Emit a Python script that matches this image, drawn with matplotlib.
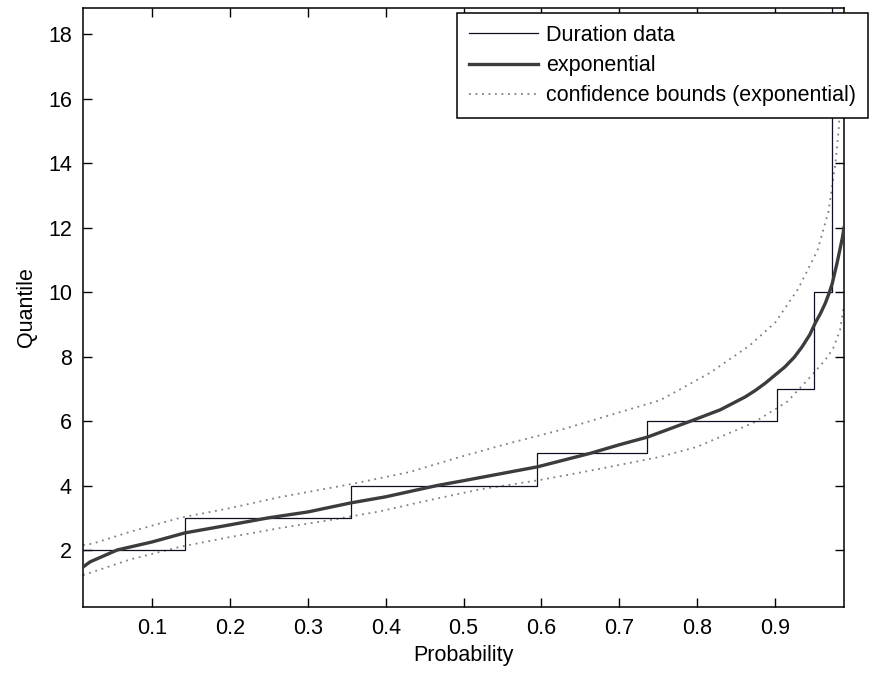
import matplotlib
matplotlib.use("Agg")
import matplotlib.pyplot as plt

plt.rcParams['font.family'] = ['Liberation Sans', 'DejaVu Sans']

# Empirical (stairs) data: step edges in probability and quantile levels
step_edges = [0.011, 0.142, 0.355, 0.595, 0.736, 0.903, 0.951, 0.974, 0.989]
step_values = [2, 3, 4, 5, 6, 7, 10, 20]

# Fitted exponential quantile curve
fit_p = [0.011, 0.020, 0.055, 0.100, 0.142, 0.200, 0.250, 0.300, 0.355, 0.400,
         0.466, 0.500, 0.595, 0.663, 0.701, 0.736, 0.792, 0.830, 0.862, 0.875,
         0.888, 0.900, 0.913, 0.925, 0.935, 0.945, 0.952, 0.959, 0.965, 0.970,
         0.974, 0.980, 0.984, 0.987, 0.989]
fit_q = [1.47, 1.63, 2.00, 2.25, 2.53, 2.78, 3.00, 3.18, 3.46, 3.65,
         4.00, 4.15, 4.58, 5.00, 5.27, 5.50, 6.00, 6.35, 6.75, 6.95,
         7.18, 7.42, 7.68, 7.98, 8.30, 8.68, 9.04, 9.35, 9.66, 9.98,
         10.28, 10.90, 11.35, 11.70, 12.00]

# Upper confidence bound
up_p = [0.011, 0.024, 0.071, 0.136, 0.200, 0.264, 0.357, 0.431, 0.496, 0.560,
        0.624, 0.689, 0.753, 0.817, 0.868, 0.901, 0.930, 0.955, 0.969, 0.978,
        0.982, 0.987, 0.989]
up_q = [2.15, 2.20, 2.56, 3.00, 3.30, 3.64, 4.05, 4.42, 4.89, 5.32,
        5.72, 6.19, 6.65, 7.50, 8.35, 9.07, 10.10, 11.30, 12.50, 14.00,
        15.00, 16.80, 17.50]

# Lower confidence bound
lo_p = [0.011, 0.020, 0.071, 0.136, 0.200, 0.264, 0.329, 0.393, 0.457, 0.521,
        0.598, 0.667, 0.753, 0.800, 0.872, 0.916, 0.942, 0.965, 0.975, 0.984,
        0.989]
lo_q = [1.22, 1.29, 1.70, 2.10, 2.40, 2.68, 2.93, 3.20, 3.55, 3.88,
        4.17, 4.48, 4.89, 5.20, 5.94, 6.60, 7.27, 7.90, 8.25, 8.83,
        9.60]

x_ticks = [0.1, 0.2, 0.3, 0.4, 0.5, 0.6, 0.7, 0.8, 0.9]
y_ticks = [2, 4, 6, 8, 10, 12, 14, 16, 18]

W, H = 873, 673
fig = plt.figure(figsize=(W / 100, H / 100), dpi=100)
ax = fig.add_axes([83 / W, 1 - 607 / H, (844 - 83) / W, (607 - 8) / H])

fs = 15.5

ax.step(step_edges, step_values + [step_values[-1]], where='post',
        color='#101024', lw=0.9, label='Duration data', zorder=3)
ax.plot(fit_p, fit_q, color='#3c3c3c', lw=2.4, label='exponential', zorder=4)
ax.plot(up_p, up_q, color='#808080', lw=1.3, ls=(0, (1, 2.6)),
        label='confidence bounds (exponential)', zorder=2)
ax.plot(lo_p, lo_q, color='#808080', lw=1.3, ls=(0, (1, 2.6)), zorder=2)

ax.set_xlim(0.011, 0.989)
ax.set_ylim(0.23, 18.82)
ax.set_xticks(x_ticks)
ax.set_xticklabels([f'{t:g}' for t in x_ticks])
ax.set_yticks(y_ticks)
ax.tick_params(direction='in', length=6.5, width=1.0, labelsize=fs,
               top=True, right=True, pad=8, colors='black')
for s in ax.spines.values():
    s.set_linewidth(1.1)
    s.set_color('black')

ax.set_xlabel('Probability', fontsize=fs, labelpad=4)
ax.set_ylabel('Quantile', fontsize=fs, labelpad=8)

leg = ax.legend(loc='upper right', bbox_to_anchor=(868 / W, 1 - 13 / H),
                bbox_transform=fig.transFigure, fontsize=fs, frameon=True,
                fancybox=False, edgecolor='black', framealpha=1,
                borderaxespad=0, borderpad=0.55, handlelength=3.2,
                handletextpad=0.4, labelspacing=0.43)
leg.get_frame().set_linewidth(1.1)
leg.set_zorder(10)

fig.savefig('out.png', dpi=100)
